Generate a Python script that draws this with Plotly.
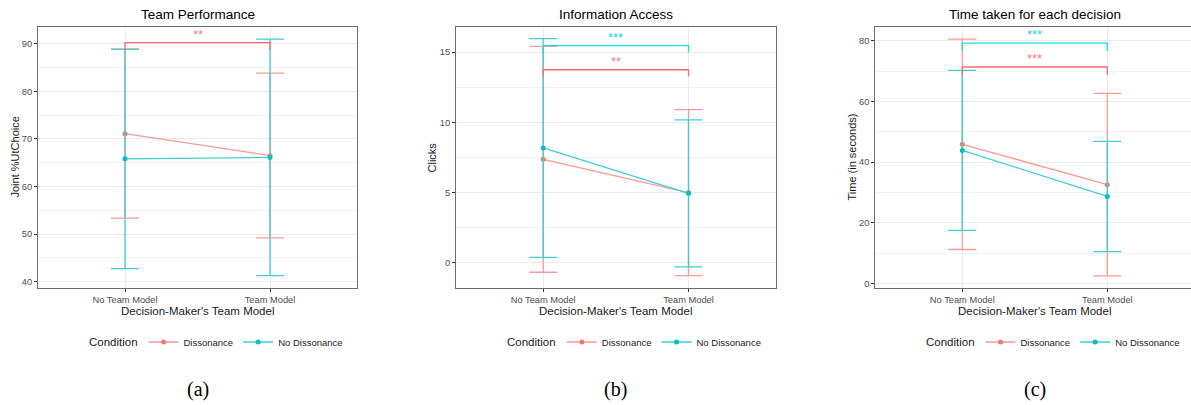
import plotly.graph_objects as go

# ---------------- data ----------------
categories = ["No Team Model", "Team Model"]
conditions = ["Dissonance", "No Dissonance"]

titles = ["Team Performance", "Information Access", "Time taken for each decision"]
y_titles = ["Joint %UtChoice", "Clicks", "Time (in seconds)"]
captions = ["(a)", "(b)", "(c)"]

# Team Performance
perf_diss_mean = [71.1, 66.5]
perf_diss_err = [17.75, 17.3]
perf_nodiss_mean = [65.8, 66.1]
perf_nodiss_err = [23.05, 24.85]

# Information Access
clicks_diss_mean = [7.37, 5.0]
clicks_diss_err = [8.03, 5.9]
clicks_nodiss_mean = [8.18, 4.95]
clicks_nodiss_err = [7.78, 5.23]

# Time taken
time_diss_mean = [45.9, 32.6]
time_diss_err = [34.7, 30.1]
time_nodiss_mean = [43.9, 28.7]
time_nodiss_err = [26.4, 18.2]

# significance brackets: (condition, bracket y, tip length, label)
perf_sig = [("Dissonance", 90.2, 1.6, "**")]
clicks_sig = [("No Dissonance", 15.45, 0.48, "***"), ("Dissonance", 13.74, 0.48, "**")]
time_sig = [("No Dissonance", 79.3, 2.6, "***"), ("Dissonance", 71.4, 2.6, "***")]

# ---------------- styling ----------------
W, H = 1191, 405
RED = "#F8766D"
CYAN = "#00BFC4"
RED_L = "#FA9A94"
CYAN_L = "#3FCFD3"
SIG_COL = {"Dissonance": "#FF6B6B", "No Dissonance": "#14E0E8"}
STAR_COL = {"Dissonance": "#F88080", "No Dissonance": "#22D8E8"}
FONT = "Liberation Sans, Arial, sans-serif"

panels = [
    dict(diss=(perf_diss_mean, perf_diss_err), nodiss=(perf_nodiss_mean, perf_nodiss_err),
         sig=perf_sig, yr=[38.67, 93.5], dtick=10, px=(38, 357), ytx=15),
    dict(diss=(clicks_diss_mean, clicks_diss_err), nodiss=(clicks_nodiss_mean, clicks_nodiss_err),
         sig=clicks_sig, yr=[-1.78, 16.78], dtick=5, px=(456, 775.7), ytx=432),
    dict(diss=(time_diss_mean, time_diss_err), nodiss=(time_nodiss_mean, time_nodiss_err),
         sig=time_sig, yr=[-1.5, 84.6], dtick=20, px=(875.3, 1191), ytx=852),
]

top_px, bot_px = 27, 288
ydom = [1 - bot_px / H, 1 - top_px / H]

fig = go.Figure()
annotations = []
layout_axes = {}

for i, p in enumerate(panels):
    n = i + 1
    xa = "x" if n == 1 else f"x{n}"
    ya = "y" if n == 1 else f"y{n}"
    leg = "legend" if n == 1 else f"legend{n}"
    x0, x1 = p["px"]
    xrange_right = 1.6 if n < 3 else -0.6 + (x1 - x0) / ((357 - 38) / 2.2)

    for cond, (m, e), lc, mc in [("Dissonance", p["diss"], RED_L, RED),
                                 ("No Dissonance", p["nodiss"], CYAN_L, CYAN)]:
        fig.add_trace(go.Scatter(
            x=categories, y=m, mode="lines+markers", name=cond,
            line=dict(color=lc, width=1.3), marker=dict(color=mc, size=5),
            error_y=dict(type="data", array=e, visible=True, color=lc, thickness=1.3, width=14),
            xaxis=xa, yaxis=ya, legend=leg, showlegend=True,
        ))

    for cond, yb, tip, lab in p["sig"]:
        fig.add_trace(go.Scatter(
            x=[categories[0], categories[0], categories[1], categories[1]],
            y=[yb - tip, yb, yb, yb - tip], mode="lines",
            line=dict(color=SIG_COL[cond], width=1.3),
            xaxis=xa, yaxis=ya, showlegend=False, hoverinfo="skip",
        ))
        annotations.append(dict(
            x=0.5, y=yb, xref=xa, yref=ya, text=lab, showarrow=False,
            yanchor="bottom", xanchor="center", yshift=-1,
            font=dict(family=FONT, size=13, color=STAR_COL[cond]),
        ))

    xsfx = "" if n == 1 else str(n)
    layout_axes[f"xaxis{xsfx}"] = dict(
        domain=[x0 / W, min(x1 / W, 1.0)], anchor=ya, type="category",
        range=[-0.6, xrange_right],
        showline=True, mirror=True, linecolor="#6b6b6b", linewidth=1,
        showgrid=True, gridcolor="#EBEBEB", gridwidth=1,
        ticks="outside", ticklen=3, tickcolor="#333333",
        tickfont=dict(family=FONT, size=9.3, color="#4D4D4D"),
        zeroline=False,
    )
    layout_axes[f"yaxis{xsfx}"] = dict(
        domain=ydom, anchor=xa, range=p["yr"], dtick=p["dtick"], tick0=0,
        showline=True, mirror=True, linecolor="#6b6b6b", linewidth=1,
        showgrid=True, gridcolor="#EBEBEB", gridwidth=1,
        minor=dict(dtick=p["dtick"] / 2, tick0=0, showgrid=True, gridcolor="#F3F3F3", gridwidth=0.6),
        ticks="outside", ticklen=3, tickcolor="#333333",
        tickfont=dict(family=FONT, size=9.3, color="#4D4D4D"),
        zeroline=False,
    )

    cx = (x0 + x1) / 2 if n < 3 else (875.3 + 1193.7) / 2
    # title
    annotations.append(dict(x=cx / W, y=1 - 15 / H, xref="paper", yref="paper", text=titles[i],
                            showarrow=False, xanchor="center", yanchor="middle",
                            font=dict(family=FONT, size=13.5, color="#000000")))
    # x title
    annotations.append(dict(x=cx / W, y=1 - 311 / H, xref="paper", yref="paper",
                            text="Decision-Maker's Team Model",
                            showarrow=False, xanchor="center", yanchor="middle",
                            font=dict(family=FONT, size=11.5, color="#1a1a1a")))
    # y title
    annotations.append(dict(x=p["ytx"] / W, y=1 - 157.5 / H, xref="paper", yref="paper",
                            text=y_titles[i], textangle=-90,
                            showarrow=False, xanchor="center", yanchor="middle",
                            font=dict(family=FONT, size=11, color="#1a1a1a")))
    # caption
    annotations.append(dict(x=cx / W, y=1 - 389 / H, xref="paper", yref="paper",
                            text=captions[i],
                            showarrow=False, xanchor="center", yanchor="middle",
                            font=dict(family="Liberation Serif, Times New Roman, serif", size=20, color="#000000")))
    # legend title as annotation + legend items
    leg_start = cx - 54
    annotations.append(dict(x=(leg_start - 4) / W, y=1 - 342 / H, xref="paper", yref="paper",
                            text="Condition", showarrow=False, xanchor="right", yanchor="middle",
                            font=dict(family=FONT, size=11.5, color="#1a1a1a")))
    layout_axes[leg] = dict(
        orientation="h", x=leg_start / W, xanchor="left", y=1 - 342 / H, yanchor="middle",
        font=dict(family=FONT, size=9.5, color="#1a1a1a"),
        bgcolor="rgba(0,0,0,0)", itemwidth=30, tracegroupgap=0,
    )

fig.update_layout(
    width=W, height=H, margin=dict(l=0, r=0, t=0, b=0),
    paper_bgcolor="white", plot_bgcolor="white",
    annotations=annotations, **layout_axes,
)

fig.write_html("out.html", config={"displayModeBar": False},
               post_script="document.body.style.margin='0';")
